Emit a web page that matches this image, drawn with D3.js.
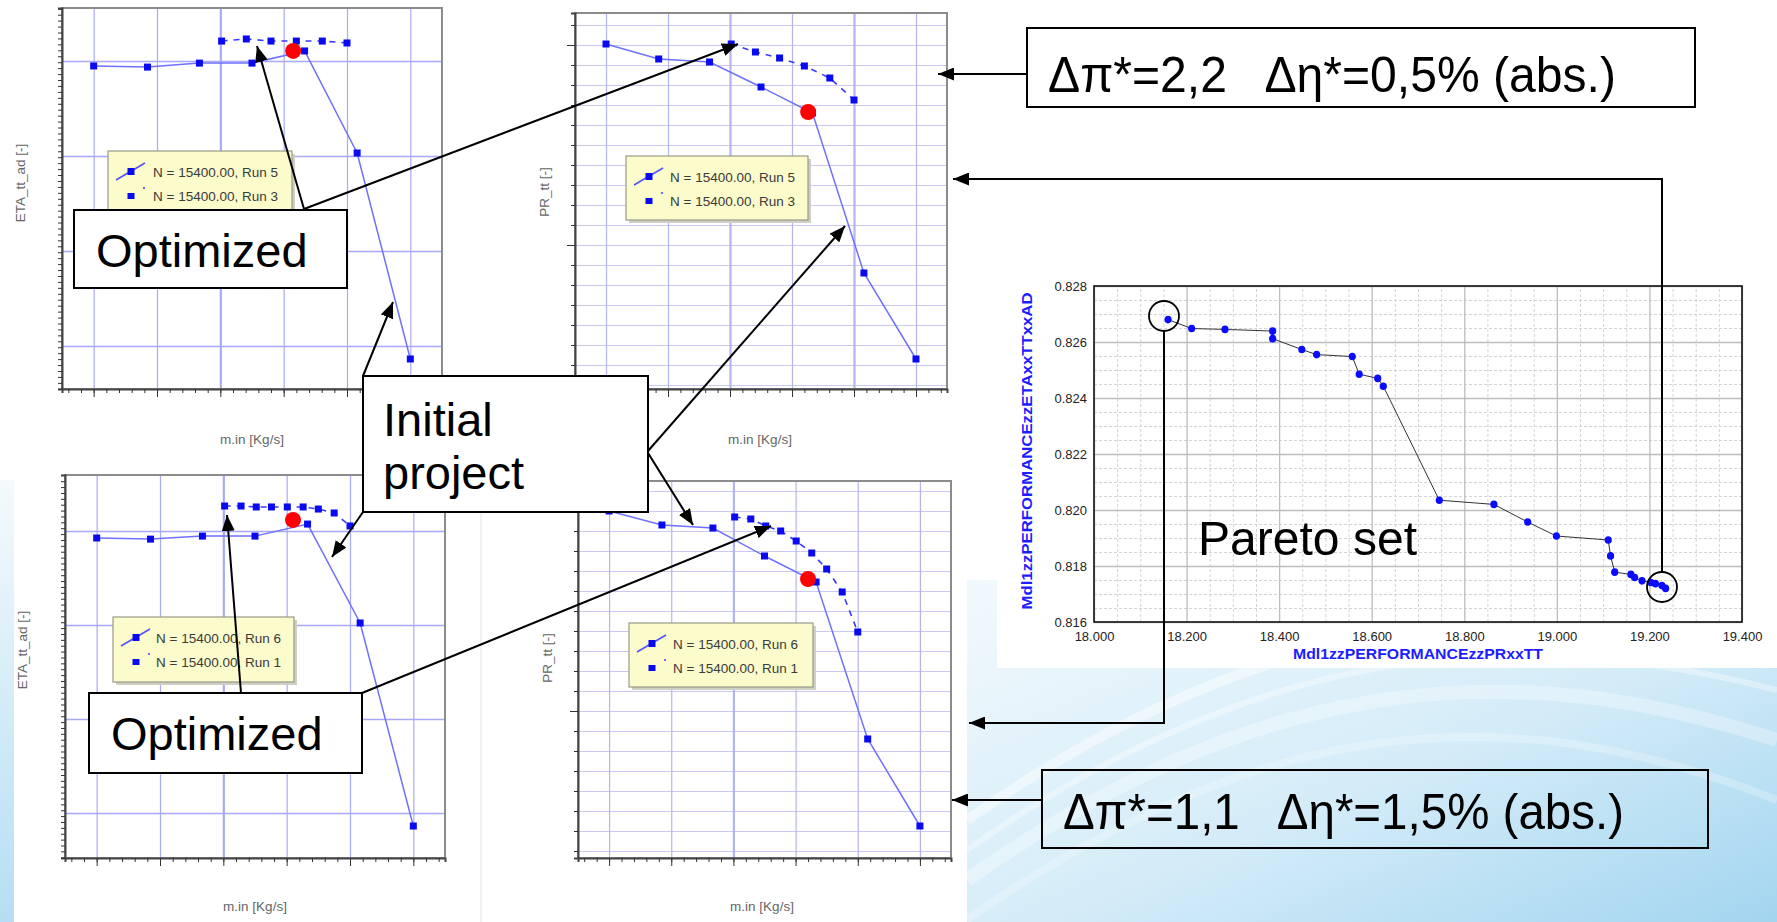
<!DOCTYPE html>
<html><head><meta charset="utf-8">
<script src="https://cdn.jsdelivr.net/npm/d3@7"></script>
<style>body{margin:0;background:#fff;overflow:hidden}svg{display:block}text.pre{white-space:pre}</style>
</head><body>
<svg id="c" width="1777" height="922"></svg>
<script>
// ---------------- DATA ----------------
// small compressor maps (mass flow in chart units, unlabeled axes)
const massFlowInitial = [0.50, 1.35, 2.17, 3.00, 3.83, 4.66, 5.50];
const etaRun5 = [0.8474, 0.8468, 0.8489, 0.8489, 0.8553, 0.8016, 0.6932];
const etaRun6 = [0.8463, 0.8457, 0.8473, 0.8473, 0.8537, 0.8011, 0.6931];
const prRun5 = [19.005, 18.930, 18.915, 18.790, 18.660, 17.860, 17.430];
const prRun6 = [19.000, 18.930, 18.915, 18.775, 18.645, 17.860, 17.425];
const massFlowRun3 = [2.52, 2.91, 3.30, 3.70, 4.11, 4.50];
const etaRun3 = [0.8605, 0.8616, 0.8605, 0.8605, 0.8605, 0.8595];
const prRun3 = [19.005, 18.965, 18.935, 18.895, 18.835, 18.725];
const massFlowRun1 = [2.52, 2.78, 3.02, 3.26, 3.51, 3.76, 4.00, 4.25, 4.50];
const etaRun1 = [0.8633, 0.8633, 0.8628, 0.8628, 0.8628, 0.8628, 0.8617, 0.8596, 0.8527];
const prRun1 = [18.970, 18.960, 18.925, 18.900, 18.850, 18.790, 18.710, 18.595, 18.395];
const designPoints = {tl: [3.65, 0.8553], tr: [3.76, 18.665], bl: [3.60, 0.8559], br: [3.70, 18.660]};
const massFlowGrid = [0.5, 1.5, 2.5, 3.5, 4.5, 5.5];
const etaGrid = [0.70, 0.75, 0.80, 0.85];
const legendTop = ["N = 15400.00, Run 5", "N = 15400.00, Run 3"];
const legendBottom = ["N = 15400.00, Run 6", "N = 15400.00, Run 1"];

// Pareto set
const paretoPR = [18.160, 18.211, 18.283, 18.386, 18.386, 18.449, 18.481, 18.558, 18.573, 18.613, 18.625,
  18.746, 18.864, 18.937, 18.999, 19.111, 19.116, 19.125, 19.160, 19.168, 19.184, 19.203, 19.213, 19.227, 19.235];
const paretoETA = [0.82680, 0.82648, 0.82645, 0.82639, 0.82612, 0.82573, 0.82555, 0.82548, 0.82485, 0.82470, 0.82442,
  0.82035, 0.82020, 0.81957, 0.81907, 0.81893, 0.81836, 0.81778, 0.81770, 0.81759, 0.81747, 0.81741, 0.81737, 0.81730, 0.81720];
const paretoXTicks = [18.0, 18.2, 18.4, 18.6, 18.8, 19.0, 19.2, 19.4];
const paretoYTicks = [0.816, 0.818, 0.820, 0.822, 0.824, 0.826, 0.828];

// ---------------- DRAW ----------------
const svg = d3.select("#c");
const defs = svg.append("defs");
const bg = defs.append("linearGradient").attr("id","bgBlue").attr("x1","0").attr("y1","0").attr("x2","1").attr("y2","1");
bg.append("stop").attr("offset","0").attr("stop-color","#f2f9fd");
bg.append("stop").attr("offset","0.55").attr("stop-color","#d4ecf8");
bg.append("stop").attr("offset","1").attr("stop-color","#a3d5f0");
const lg = defs.append("linearGradient").attr("id","leftBlue").attr("x1","0").attr("y1","0").attr("x2","0").attr("y2","1");
lg.append("stop").attr("offset","0").attr("stop-color","#f4fafd");
lg.append("stop").attr("offset","1").attr("stop-color","#b5def4");
defs.append("marker").attr("id","arr").attr("viewBox","0 0 16 13").attr("refX",16).attr("refY",6.5)
  .attr("markerWidth",16).attr("markerHeight",13).attr("markerUnits","userSpaceOnUse").attr("orient","auto")
  .append("path").attr("d","M0,0 L16,6.5 L0,13 Z").attr("fill","#000");

svg.append("rect").attr("width",1777).attr("height",922).attr("fill","#fff");
// blue background regions
svg.append("rect").attr("x",967).attr("y",580).attr("width",810).attr("height",342).attr("fill","url(#bgBlue)");
const sw = svg.append("g").attr("fill","none").attr("stroke","#fff");
[[760,0.45,10],[790,0.35,6],[820,0.3,14],[860,0.25,8]].forEach(([yy,op,wd],i)=>{
  sw.append("path").attr("d",`M967,${yy+60} C1250,${yy-140} 1500,${yy-170} 1777,${yy-120+i*20}`)
    .attr("stroke-opacity",op).attr("stroke-width",wd);
});
svg.append("rect").attr("x",0).attr("y",480).attr("width",14).attr("height",442).attr("fill","url(#leftBlue)");
svg.append("line").attr("x1",481).attr("x2",481).attr("y1",462).attr("y2",922).attr("stroke","#e2e2e2");

function drawSmall(o){
  const g = svg.append("g");
  const x = d3.scaleLinear().domain([0,6]).range([o.left,o.right]);
  const y = d3.scaleLinear().domain(o.yDomain).range([o.bottom,o.top]);
  const w = o.right-o.left, h = o.bottom-o.top;
  g.append("rect").attr("x",o.left).attr("y",o.top).attr("width",w).attr("height",h).attr("fill","#fff");
  // horizontal grid
  const hg = g.append("g").attr("transform",`translate(${o.left},0)`)
    .call(d3.axisLeft(y).tickValues(o.yGrid).tickSize(-w).tickFormat(""));
  hg.select(".domain").remove();
  hg.selectAll("line").attr("stroke",o.hColor).attr("stroke-width",o.hWidth);
  // vertical grid
  const vg = g.append("g").attr("transform",`translate(0,${o.bottom})`)
    .call(d3.axisBottom(x).tickValues(massFlowGrid).tickSize(-h).tickFormat(""));
  vg.select(".domain").remove();
  vg.selectAll("line").attr("stroke",o.vColor).attr("stroke-width",d=>o.thick.includes(d)?2.2:1.2);
  // frame
  g.append("rect").attr("x",o.left).attr("y",o.top).attr("width",w).attr("height",h)
    .attr("fill","none").attr("stroke","#8c8c8c").attr("stroke-width",2);
  // axis ticks
  const la = g.append("g").attr("transform",`translate(${o.left},0)`)
    .call(d3.axisLeft(y).tickValues(o.yTicks).tickSize(4).tickFormat(""));
  la.select(".domain").attr("stroke","#444").attr("stroke-width",2);
  la.selectAll("line").attr("stroke","#333");
  if(o.yMajor){
    g.append("g").attr("transform",`translate(${o.left},0)`)
      .call(d3.axisLeft(y).tickValues(o.yMajor).tickSize(8).tickFormat(""))
      .call(s=>s.select(".domain").remove()).selectAll("line").attr("stroke","#333");
  }
  const ba = g.append("g").attr("transform",`translate(0,${o.bottom})`)
    .call(d3.axisBottom(x).tickValues(d3.range(0.1,6,0.2)).tickSize(4).tickFormat(""));
  ba.select(".domain").attr("stroke","#444").attr("stroke-width",2);
  ba.selectAll("line").attr("stroke","#333");
  g.append("g").attr("transform",`translate(0,${o.bottom})`)
    .call(d3.axisBottom(x).tickValues(massFlowGrid).tickSize(8).tickFormat(""))
    .call(s=>s.select(".domain").remove()).selectAll("line").attr("stroke","#333");
  // series
  const line = d3.line().x(d=>x(d[0])).y(d=>y(d[1]));
  const solid = massFlowInitial.map((v,i)=>[v,o.solid[i]]);
  const dashed = o.dashX.map((v,i)=>[v,o.dashY[i]]);
  g.append("path").attr("d",line(dashed)).attr("fill","none").attr("stroke","#3a3aff").attr("stroke-width",1.6).attr("stroke-dasharray","6,6");
  g.append("path").attr("d",line(solid)).attr("fill","none").attr("stroke","#7070ff").attr("stroke-width",1.5);
  g.selectAll(null).data(solid.concat(dashed)).enter().append("rect")
    .attr("x",d=>x(d[0])-3.5).attr("y",d=>y(d[1])-3.5).attr("width",7).attr("height",7).attr("fill","#0a0aee");
  g.append("circle").attr("cx",x(o.dp[0])).attr("cy",y(o.dp[1])).attr("r",8).attr("fill","#f00");
  // legend
  const L = o.legend;
  const lgG = g.append("g").attr("transform",`translate(${L.x},${L.y})`);
  lgG.append("rect").attr("x",3).attr("y",3).attr("width",L.w).attr("height",L.h).attr("fill","#cfcfc4");
  lgG.append("rect").attr("width",L.w).attr("height",L.h).attr("fill","#fbfbcc").attr("stroke","#9a9a8a").attr("stroke-width",1.2);
  lgG.append("line").attr("x1",8).attr("y1",29).attr("x2",37).attr("y2",12).attr("stroke","#5050ff").attr("stroke-width",1.5);
  lgG.append("rect").attr("x",19.5).attr("y",17).attr("width",7).attr("height",7).attr("fill","#0a0aee");
  lgG.append("rect").attr("x",19.5).attr("y",42).attr("width",7).attr("height",6).attr("fill","#0a0aee");
  lgG.append("rect").attr("x",35).attr("y",36).attr("width",2).attr("height",2).attr("fill","#6a6aff");
  L.labels.forEach((t,i)=>lgG.append("text").attr("x",L.tx).attr("y",26+i*24).text(t)
    .attr("font-family","Liberation Sans, Arial, sans-serif").attr("font-size",13.5).attr("fill","#3a3a3a"));
  // axis labels
  g.append("text").attr("transform",`translate(${o.yLab[0]},${o.yLab[1]}) rotate(-90)`).attr("text-anchor","middle")
    .attr("dy","0.35em").text(o.yTitle).attr("font-family","Liberation Sans, Arial, sans-serif").attr("font-size",13.5).attr("fill","#666");
  g.append("text").attr("x",o.xLab[0]).attr("y",o.xLab[1]).attr("text-anchor","middle").text("m.in [Kg/s]")
    .attr("font-family","Liberation Sans, Arial, sans-serif").attr("font-size",13.5).attr("fill","#666");
}

const etaTicks = d3.range(0.6775, 0.878, 0.05/16);
const prTicks = d3.range(17.3, 19.16, 0.1);
drawSmall({left:62,right:442,top:8,bottom:389,yDomain:[0.6774,0.8779],yGrid:etaGrid,yTicks:etaTicks,
  hColor:"#a9a9fa",hWidth:1.4,vColor:"#a9a9fa",thick:[2.5],solid:etaRun5,dashX:massFlowRun3,dashY:etaRun3,dp:designPoints.tl,
  legend:{x:108,y:151,w:184,h:62,tx:45,labels:legendTop},yTitle:"ETA_tt_ad [-]",yLab:[20,183],xLab:[252,444]});
drawSmall({left:575,right:947,top:13,bottom:389,yDomain:[17.28,19.16],yGrid:d3.range(17.3,19.16,0.1),yTicks:prTicks,yMajor:[18.0,19.0],
  hColor:"#c9c9f3",hWidth:1.1,vColor:"#b4b4f4",thick:[2.5,4.5],solid:prRun5,dashX:massFlowRun3,dashY:prRun3,dp:designPoints.tr,
  legend:{x:626,y:156,w:182,h:64,tx:44,labels:legendTop},yTitle:"PR_tt [-]",yLab:[544,192],xLab:[760,444]});
drawSmall({left:65,right:445,top:475,bottom:858,yDomain:[0.6761,0.8798],yGrid:etaGrid,yTicks:d3.range(0.6765,0.8795,0.05/16),
  hColor:"#a9a9fa",hWidth:1.4,vColor:"#a9a9fa",thick:[2.5],solid:etaRun6,dashX:massFlowRun1,dashY:etaRun1,dp:designPoints.bl,
  legend:{x:113,y:617,w:181,h:65,tx:43,labels:legendBottom},yTitle:"ETA_tt_ad [-]",yLab:[22,650],xLab:[255,911]});
drawSmall({left:578,right:951,top:481,bottom:858,yDomain:[17.265,19.15],yGrid:d3.range(17.3,19.15,0.1),yTicks:d3.range(17.3,19.15,0.1),yMajor:[18.0,19.0],
  hColor:"#c9c9f3",hWidth:1.1,vColor:"#b4b4f4",thick:[2.5],solid:prRun6,dashX:massFlowRun1,dashY:prRun1,dp:designPoints.br,
  legend:{x:629,y:623,w:184,h:64,tx:44,labels:legendBottom},yTitle:"PR_tt [-]",yLab:[547,658],xLab:[762,911]});

// ---------------- Pareto chart ----------------
svg.append("rect").attr("x",997).attr("y",266).attr("width",780).attr("height",402).attr("fill","#fff");
const P = {left:1094,right:1742,top:286,bottom:622};
const px = d3.scaleLinear().domain([18.0,19.4]).range([P.left,P.right]);
const py = d3.scaleLinear().domain([0.816,0.828]).range([P.bottom,P.top]);
const pg = svg.append("g");
const isMaj = (v,s,o)=>Math.abs((v-o)/s-Math.round((v-o)/s))<1e-6;
const xMinor = d3.range(18.0,19.4001,0.05).filter(v=>!isMaj(v,0.2,18));
const yMinor = d3.range(0.816,0.82801,0.0005).filter(v=>!isMaj(v,0.002,0.816));
const gx1 = pg.append("g").attr("transform",`translate(0,${P.bottom})`).call(d3.axisBottom(px).tickValues(xMinor).tickSize(-(P.bottom-P.top)).tickFormat(""));
gx1.select(".domain").remove(); gx1.selectAll("line").attr("stroke","#d4d4d4").attr("stroke-dasharray","3,2");
const gy1 = pg.append("g").attr("transform",`translate(${P.left},0)`).call(d3.axisLeft(py).tickValues(yMinor).tickSize(-(P.right-P.left)).tickFormat(""));
gy1.select(".domain").remove(); gy1.selectAll("line").attr("stroke","#d4d4d4").attr("stroke-dasharray","3,2");
const gx2 = pg.append("g").attr("transform",`translate(0,${P.bottom})`).call(d3.axisBottom(px).tickValues(paretoXTicks).tickSize(-(P.bottom-P.top)).tickPadding(10).tickFormat(d3.format(".3f")));
gx2.select(".domain").remove(); gx2.selectAll("line").attr("stroke","#bdbdbd").attr("stroke-width",1.3);
gx2.selectAll("text").attr("font-family","Liberation Sans Narrow, Liberation Sans, Arial, sans-serif").attr("font-size",13).attr("fill","#222");
const gy2 = pg.append("g").attr("transform",`translate(${P.left},0)`).call(d3.axisLeft(py).tickValues(paretoYTicks).tickSize(-(P.right-P.left)).tickPadding(7).tickFormat(d3.format(".3f")));
gy2.select(".domain").remove(); gy2.selectAll("line").attr("stroke","#bdbdbd").attr("stroke-width",1.3);
gy2.selectAll("text").attr("font-family","Liberation Sans Narrow, Liberation Sans, Arial, sans-serif").attr("font-size",13).attr("fill","#222");
pg.append("rect").attr("x",P.left).attr("y",P.top).attr("width",P.right-P.left).attr("height",P.bottom-P.top)
  .attr("fill","none").attr("stroke","#111").attr("stroke-width",1.6);
const pts = paretoPR.map((v,i)=>[v,paretoETA[i]]);
pg.append("path").attr("d",d3.line().x(d=>px(d[0])).y(d=>py(d[1]))(pts)).attr("fill","none").attr("stroke","#333").attr("stroke-width",1);
pg.selectAll(null).data(pts).enter().append("ellipse").attr("cx",d=>px(d[0])).attr("cy",d=>py(d[1])).attr("rx",3.6).attr("ry",3.8).attr("fill","#0b0bff");
pg.append("text").attr("x",(P.left+P.right)/2).attr("y",659).attr("text-anchor","middle").text("Mdl1zzPERFORMANCEzzPRxxTT")
  .attr("font-family","Liberation Sans, Arial, sans-serif").attr("font-weight","bold").attr("font-size",15).attr("fill","#1d1dff")
  .attr("textLength",250).attr("lengthAdjust","spacingAndGlyphs");
pg.append("text").attr("transform",`translate(1032,${(P.top+P.bottom)/2 - 3}) rotate(-90)`).attr("text-anchor","middle").text("Mdl1zzPERFORMANCEzzETAxxTTxxAD")
  .attr("font-family","Liberation Sans, Arial, sans-serif").attr("font-weight","bold").attr("font-size",15).attr("fill","#1d1dff")
  .attr("textLength",317).attr("lengthAdjust","spacingAndGlyphs");
pg.append("text").attr("x",1198).attr("y",555).text("Pareto set").attr("font-family","Liberation Sans, Arial, sans-serif")
  .attr("font-size",49).attr("fill","#000").attr("textLength",219).attr("lengthAdjust","spacingAndGlyphs");
pg.append("circle").attr("cx",1164).attr("cy",316).attr("r",15).attr("fill","none").attr("stroke","#000").attr("stroke-width",1.8);
pg.append("circle").attr("cx",1662).attr("cy",587).attr("r",15).attr("fill","none").attr("stroke","#000").attr("stroke-width",1.8);

// ---------------- annotation boxes ----------------
const font = "Liberation Sans, Arial, sans-serif";
function box(x0,y0,x1,y1,fill){
  svg.append("rect").attr("x",x0).attr("y",y0).attr("width",x1-x0).attr("height",y1-y0)
    .attr("fill",fill).attr("stroke","#000").attr("stroke-width",2);
}
box(74,210,347,288,"#fff");
svg.append("text").attr("x",96).attr("y",267).text("Optimized").attr("font-family",font).attr("font-size",47).attr("fill","#000");
box(89,693,362,773,"#fff");
svg.append("text").attr("x",111).attr("y",750).text("Optimized").attr("font-family",font).attr("font-size",47).attr("fill","#000");
box(363,376,648,512,"#fff");
svg.append("text").attr("x",383).attr("y",436).text("Initial").attr("font-family",font).attr("font-size",47).attr("fill","#000");
svg.append("text").attr("x",383).attr("y",489).text("project").attr("font-family",font).attr("font-size",47).attr("fill","#000");
box(1027,28,1695,107,"#fff");
svg.append("text").attr("class","pre").attr("x",1048).attr("y",92).text("Δπ*=2,2   Δη*=0,5% (abs.)").attr("font-family",font)
  .attr("font-size",50).attr("fill","#000").attr("textLength",568).attr("lengthAdjust","spacingAndGlyphs");
box(1042,770,1708,848,"none");
svg.append("text").attr("class","pre").attr("x",1063).attr("y",829).text("Δπ*=1,1   Δη*=1,5% (abs.)").attr("font-family",font)
  .attr("font-size",50).attr("fill","#000").attr("textLength",561).attr("lengthAdjust","spacingAndGlyphs");

// ---------------- arrows ----------------
const arrows = [
  [[304,209],[257,46]], [[304,209],[738,44]],
  [[363,376],[393,302]], [[363,512],[332,557]],
  [[648,451],[845,226]], [[648,453],[693,525]],
  [[241,693],[227,515]], [[362,693],[771,526]],
  [[1027,74],[938,74]],
  [[1662,572],[1662,179],[953,179]],
  [[1164,331],[1164,723],[969,723]],
  [[1042,800],[952,800]]
];
arrows.forEach(a=>svg.append("path").attr("d",d3.line()(a)).attr("fill","none").attr("stroke","#000")
  .attr("stroke-width",2).attr("marker-end","url(#arr)"));
</script>
</body></html>
